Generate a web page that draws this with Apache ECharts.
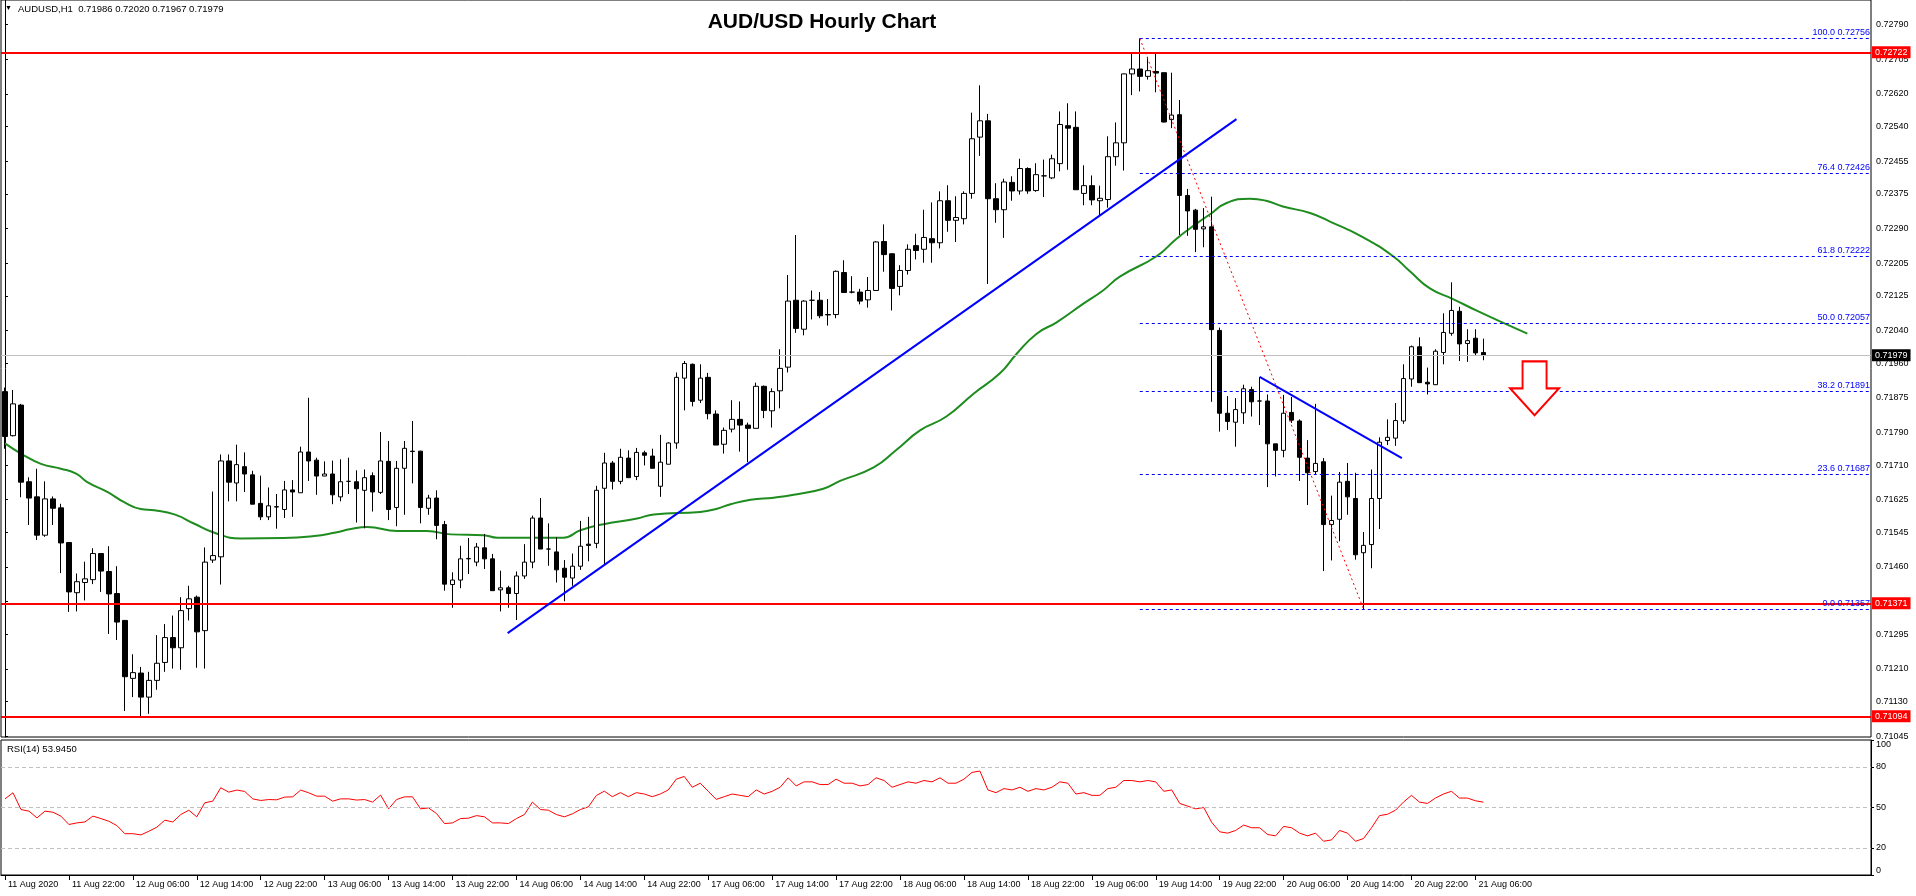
<!DOCTYPE html>
<html><head><meta charset="utf-8">
<script src="https://cdn.jsdelivr.net/npm/echarts@6/dist/echarts.min.js"></script>
<style>html,body{margin:0;padding:0;background:#fff;overflow:hidden}#c{width:1916px;height:896px}</style>
</head><body><div id="c"></div>
<script>
const symbolName = 'AUDUSD,H1';
const chartTitle = 'AUD/USD Hourly Chart';
const TOTAL_SLOTS = 234;
const tickLabels = ['11 Aug 2020','11 Aug 22:00','12 Aug 06:00','12 Aug 14:00','12 Aug 22:00','13 Aug 06:00','13 Aug 14:00','13 Aug 22:00','14 Aug 06:00','14 Aug 14:00','14 Aug 22:00','17 Aug 06:00','17 Aug 14:00','17 Aug 22:00','18 Aug 06:00','18 Aug 14:00','18 Aug 22:00','19 Aug 06:00','19 Aug 14:00','19 Aug 22:00','20 Aug 06:00','20 Aug 14:00','20 Aug 22:00','21 Aug 06:00'];
// [open, high, low, close]
const ohlc = [
[0.71890,0.71900,0.71750,0.71780],[0.71782,0.71894,0.71780,0.71860],[0.71857,0.71860,0.71631,0.71668],[0.71669,0.71680,0.71563,0.71629],
[0.71632,0.71701,0.71526,0.71538],[0.71538,0.71670,0.71534,0.71627],[0.71627,0.71633,0.71563,0.71604],[0.71605,0.71615,0.71445,0.71519],
[0.71520,0.71521,0.71350,0.71399],[0.71397,0.71444,0.71351,0.71424],[0.71422,0.71473,0.71378,0.71431],[0.71429,0.71506,0.71418,0.71493],
[0.71493,0.71494,0.71399,0.71450],[0.71449,0.71511,0.71296,0.71394],[0.71395,0.71462,0.71281,0.71325],[0.71329,0.71330,0.71107,0.71191],
[0.71187,0.71246,0.71141,0.71201],[0.71200,0.71215,0.71094,0.71141],[0.71141,0.71203,0.71100,0.71182],[0.71182,0.71293,0.71159,0.71224],
[0.71226,0.71320,0.71203,0.71287],[0.71287,0.71341,0.71211,0.71262],[0.71262,0.71386,0.71208,0.71353],[0.71358,0.71414,0.71329,0.71382],
[0.71386,0.71390,0.71213,0.71301],[0.71304,0.71508,0.71211,0.71472],[0.71477,0.71645,0.71470,0.71488],[0.71485,0.71736,0.71417,0.71720],
[0.71720,0.71736,0.71621,0.71668],[0.71666,0.71760,0.71621,0.71711],[0.71706,0.71741,0.71644,0.71688],[0.71686,0.71696,0.71614,0.71614],
[0.71616,0.71684,0.71575,0.71583],[0.71583,0.71655,0.71575,0.71610],[0.71607,0.71639,0.71554,0.71608],[0.71601,0.71671,0.71580,0.71649],
[0.71649,0.71673,0.71583,0.71644],[0.71642,0.71755,0.71642,0.71742],[0.71742,0.71875,0.71671,0.71720],[0.71722,0.71728,0.71637,0.71683],
[0.71683,0.71719,0.71683,0.71688],[0.71688,0.71721,0.71614,0.71637],[0.71632,0.71724,0.71621,0.71669],[0.71670,0.71728,0.71639,0.71670],
[0.71669,0.71697,0.71569,0.71652],[0.71648,0.71699,0.71555,0.71679],[0.71684,0.71692,0.71596,0.71644],[0.71643,0.71791,0.71639,0.71720],
[0.71719,0.71769,0.71575,0.71601],[0.71606,0.71720,0.71560,0.71702],[0.71702,0.71769,0.71588,0.71751],[0.71744,0.71818,0.71665,0.71743],
[0.71744,0.71745,0.71567,0.71606],[0.71604,0.71637,0.71588,0.71629],[0.71629,0.71648,0.71528,0.71562],[0.71564,0.71573,0.71402,0.71418],
[0.71417,0.71447,0.71360,0.71428],[0.71428,0.71512,0.71408,0.71480],[0.71480,0.71531,0.71443,0.71481],[0.71472,0.71519,0.71462,0.71509],
[0.71507,0.71541,0.71455,0.71480],[0.71480,0.71492,0.71402,0.71402],[0.71404,0.71451,0.71351,0.71409],[0.71409,0.71414,0.71360,0.71395],
[0.71395,0.71449,0.71330,0.71438],[0.71438,0.71516,0.71431,0.71472],[0.71472,0.71586,0.71457,0.71580],[0.71580,0.71629,0.71504,0.71504],
[0.71504,0.71567,0.71463,0.71504],[0.71497,0.71533,0.71422,0.71453],[0.71457,0.71477,0.71376,0.71435],[0.71433,0.71493,0.71414,0.71462],
[0.71462,0.71573,0.71453,0.71511],[0.71516,0.71583,0.71474,0.71513],[0.71518,0.71659,0.71506,0.71648],[0.71653,0.71740,0.71467,0.71715],
[0.71715,0.71720,0.71650,0.71670],[0.71670,0.71750,0.71663,0.71729],[0.71727,0.71746,0.71679,0.71679],[0.71682,0.71752,0.71673,0.71741],
[0.71740,0.71745,0.71709,0.71734],[0.71732,0.71750,0.71702,0.71702],[0.71658,0.71784,0.71632,0.71717],[0.71712,0.71766,0.71712,0.71764],
[0.71764,0.71937,0.71750,0.71925],[0.71923,0.71965,0.71844,0.71959],[0.71957,0.71959,0.71854,0.71866],[0.71869,0.71957,0.71862,0.71923],
[0.71925,0.71936,0.71822,0.71836],[0.71835,0.71844,0.71759,0.71759],[0.71761,0.71802,0.71738,0.71795],[0.71798,0.71869,0.71790,0.71822],
[0.71822,0.71866,0.71743,0.71808],[0.71808,0.71814,0.71717,0.71800],[0.71800,0.71912,0.71800,0.71903],[0.71903,0.71905,0.71825,0.71844],
[0.71843,0.71898,0.71802,0.71890],[0.71892,0.71994,0.71849,0.71947],[0.71950,0.72176,0.71937,0.72112],[0.72114,0.72274,0.72034,0.72045],
[0.72043,0.72114,0.72028,0.72112],[0.72114,0.72138,0.72067,0.72114],[0.72114,0.72134,0.72070,0.72076],[0.72079,0.72117,0.72052,0.72078],
[0.72079,0.72187,0.72070,0.72185],[0.72182,0.72212,0.72133,0.72133],[0.72134,0.72173,0.72131,0.72134],[0.72134,0.72142,0.72104,0.72112],
[0.72115,0.72171,0.72096,0.72138],[0.72138,0.72259,0.72138,0.72257],[0.72258,0.72300,0.72184,0.72226],[0.72228,0.72229,0.72089,0.72143],
[0.72148,0.72200,0.72126,0.72187],[0.72187,0.72251,0.72177,0.72239],[0.72248,0.72277,0.72214,0.72236],[0.72239,0.72336,0.72206,0.72268],
[0.72265,0.72354,0.72206,0.72255],[0.72255,0.72381,0.72241,0.72358],[0.72358,0.72396,0.72282,0.72310],[0.72310,0.72369,0.72257,0.72317],
[0.72314,0.72381,0.72300,0.72376],[0.72376,0.72574,0.72363,0.72510],[0.72514,0.72641,0.72468,0.72554],[0.72554,0.72571,0.72154,0.72363],
[0.72363,0.72401,0.72304,0.72336],[0.72336,0.72412,0.72267,0.72404],[0.72403,0.72418,0.72358,0.72382],[0.72382,0.72461,0.72373,0.72437],
[0.72437,0.72440,0.72375,0.72382],[0.72383,0.72450,0.72380,0.72422],[0.72419,0.72459,0.72367,0.72419],[0.72414,0.72471,0.72411,0.72461],
[0.72449,0.72577,0.72430,0.72545],[0.72542,0.72597,0.72434,0.72536],[0.72538,0.72577,0.72385,0.72385],[0.72376,0.72445,0.72347,0.72395],
[0.72395,0.72420,0.72347,0.72360],[0.72358,0.72395,0.72322,0.72364],[0.72361,0.72516,0.72341,0.72466],[0.72466,0.72550,0.72444,0.72500],
[0.72500,0.72670,0.72432,0.72669],[0.72669,0.72719,0.72617,0.72681],[0.72681,0.72756,0.72626,0.72663],[0.72663,0.72711,0.72655,0.72677],
[0.72675,0.72719,0.72624,0.72671],[0.72672,0.72672,0.72550,0.72551],[0.72557,0.72672,0.72536,0.72568],[0.72569,0.72605,0.72274,0.72371],
[0.72371,0.72387,0.72272,0.72333],[0.72335,0.72338,0.72232,0.72288],[0.72289,0.72340,0.72244,0.72294],[0.72294,0.72368,0.71865,0.72042],
[0.72040,0.72047,0.71792,0.71837],[0.71837,0.71879,0.71796,0.71817],[0.71815,0.71874,0.71755,0.71846],[0.71838,0.71907,0.71811,0.71897],
[0.71895,0.71902,0.71829,0.71865],[0.71867,0.71926,0.71808,0.71867],[0.71867,0.71883,0.71656,0.71762],[0.71762,0.71762,0.71682,0.71746],
[0.71746,0.71882,0.71729,0.71837],[0.71839,0.71877,0.71813,0.71820],[0.71818,0.71822,0.71671,0.71729],[0.71727,0.71771,0.71612,0.71691],
[0.71694,0.71860,0.71687,0.71714],[0.71718,0.71727,0.71450,0.71564],[0.71564,0.71635,0.71476,0.71574],[0.71577,0.71693,0.71523,0.71668],
[0.71670,0.71715,0.71588,0.71632],[0.71628,0.71691,0.71478,0.71490],[0.71495,0.71546,0.71357,0.71513],[0.71515,0.71699,0.71457,0.71628],
[0.71628,0.71778,0.71553,0.71766],[0.71770,0.71822,0.71759,0.71778],[0.71776,0.71862,0.71757,0.71819],[0.71818,0.71957,0.71811,0.71922],
[0.71921,0.72003,0.71902,0.72000],[0.72000,0.72023,0.71911,0.71912],[0.71913,0.71949,0.71883,0.71909],[0.71907,0.71994,0.71906,0.71989],
[0.71986,0.72082,0.71957,0.72035],[0.72033,0.72158,0.72027,0.72089],[0.72087,0.72098,0.71965,0.72007],[0.72008,0.72043,0.71963,0.72015],
[0.72021,0.72043,0.71979,0.71985],[0.71986,0.72020,0.71967,0.71979]
];
// moving average: [bar index, price]
const maPoints = [[0,0.71763],[2,0.71738],[4.5,0.71713],[7,0.71701],[8.9,0.71689],[10.3,0.71668],[12.8,0.71644],[14.9,0.71619],[17,0.71602],[18.7,0.71599],[21.2,0.71589],[23.7,0.71566],[26.2,0.71544],[29.5,0.71530],[34.9,0.71531],[38.7,0.71536],[41.2,0.71544],[43.3,0.71553],[45.3,0.71558],[49.1,0.71548],[52.8,0.71548],[55.8,0.71540],[59.9,0.71538],[61.6,0.71532],[67,0.71532],[69.9,0.71532],[72,0.71550],[74.9,0.71565],[79.1,0.71579],[81.2,0.71589],[87,0.71595],[89.1,0.71603],[90.8,0.71614],[93.3,0.71625],[96.2,0.71630],[98.7,0.71637],[102.4,0.71652],[104.5,0.71671],[108.7,0.71704],[111.6,0.71748],[114.5,0.71795],[117.8,0.71829],[121.2,0.71885],[124.5,0.71935],[126.6,0.71983],[129.1,0.72032],[131.6,0.72060],[134.9,0.72105],[137.4,0.72138],[139.5,0.72172],[144.1,0.72222],[146.6,0.72265],[149.1,0.72302],[150.8,0.72325],[152.8,0.72352],[155.8,0.72363],[157.8,0.72358],[159.9,0.72344],[163.3,0.72328],[165.8,0.72307],[169.9,0.72269],[173.7,0.72222],[175.8,0.72185],[178.3,0.72143],[181.2,0.72117],[184.1,0.72089],[187,0.72063],[190.5,0.72032]];
const rsi = [56.4,60.9,48.5,47.3,42.3,47.3,46.5,43.6,37.4,38.6,39.3,43.6,41.8,39.8,36.6,30.6,30.6,29.7,32.4,35.4,
40.6,39.3,44.8,48.0,43.1,53.5,54.7,64.6,61.4,62.9,61.9,56.4,55.2,55.9,55.7,57.7,57.9,62.9,60.9,58.4,
58.4,54.7,56.4,56.4,55.5,55.9,54.0,59.2,49.0,55.9,57.9,57.9,49.0,49.7,45.5,38.1,38.6,41.8,42.1,44.0,
43.1,38.6,38.6,38.1,41.8,44.8,54.0,48.5,48.0,44.8,43.1,45.3,48.5,50.5,58.9,62.1,58,61,58,61,
60,58,60,63,71,73,65,68,62,56,58,60,59,58,63,60,62,65,72,66,
69,69,67,67,71,68,68,66,67,72,70,65,67,69,68,70,69,72,68,68,
71,76,77,63,61,64,63,65,62,64,63,65,69,68,60,61,59,59,64,65,
70,70,69,70,69,62,63,53,51,49,50,39,32,31,33,37,35,35,30,29,
36,35,31,29,31,25,26,33,31,25,27,35,44,45,48,54,59,54,53,57,
60,62,57,57,55,53.945];
const resistanceLines = [0.72722, 0.71371, 0.71094];
const currentPrice = 0.71979;
const fibLevels = [[100.0,0.72756],[76.4,0.72426],[61.8,0.72222],[50.0,0.72057],[38.2,0.71891],[23.6,0.71687],[0.0,0.71357]];
const fibStartBar = 142;
const fibDiagonal = [[142,0.72756],[170,0.71357]];
const trendUp = [[62.9,0.71298],[154.1,0.72558]];
const trendDown = [[157,0.71926],[174.8,0.71727]];
const arrowAt = [191.4, 0.71898];
const priceTicks = [0.72790,0.72705,0.72620,0.72540,0.72455,0.72375,0.72290,0.72205,0.72125,0.72040,0.71960,0.71875,0.71790,0.71710,0.71625,0.71545,0.71460,0.71375,0.71295,0.71210,0.71130,0.71045];
const rsiTicks = [0,20,50,80,100];
const rsiLevels = [20,50,80];
const priceMin = 0.710432, priceMax = 0.728502;

const FONT = 'Liberation Sans';
const categories = Array.from({length: TOTAL_SLOTS}, (_, i) => String(i));
const candleData = ohlc.map(r => [r[0], r[3], r[2], r[1]]);
const last = ohlc[ohlc.length - 1];

const chart = echarts.init(document.getElementById('c'), null, {renderer: 'canvas'});
const hl = (v, color, width, bg) => ({
  yAxis: v,
  lineStyle: {color: color, width: width, type: 'solid'},
  label: {show: true, position: 'end', distance: 1, formatter: v.toFixed(5), backgroundColor: bg,
          color: '#fff', fontFamily: FONT, fontSize: 9, padding: [2, 3, 1, 3]}
});
const markLines = [];
resistanceLines.forEach(v => markLines.push(hl(v, '#ff0000', 2, '#ff0000')));
markLines.push(hl(currentPrice, '#c0c0c0', 1, '#000000'));
fibLevels.forEach(([lvl, p]) => markLines.push([
  {coord: [fibStartBar, p], lineStyle: {color: '#0000ff', width: 1, type: [3, 3]},
   label: {show: true, position: 'insideEndTop', distance: 1, formatter: lvl.toFixed(1) + ' ' + p.toFixed(5),
           color: '#0000ff', fontFamily: FONT, fontSize: 9}},
  {coord: [TOTAL_SLOTS - 0.5, p]}
]));
markLines.push([{coord: fibDiagonal[0], lineStyle: {color: '#ff0000', width: 1, type: [2, 3]}, label: {show: false}}, {coord: fibDiagonal[1]}]);
markLines.push([{coord: trendUp[0], lineStyle: {color: '#0000ff', width: 2, type: 'solid'}, label: {show: false}}, {coord: trendUp[1]}]);
markLines.push([{coord: trendDown[0], lineStyle: {color: '#0000ff', width: 2, type: 'solid'}, label: {show: false}}, {coord: trendDown[1]}]);

const option = {
  animation: false,
  backgroundColor: '#ffffff',
  textStyle: {fontFamily: FONT},
  grid: [
    {left: 1, right: 45, top: -1, height: 738, show: true, borderColor: '#000', borderWidth: 1, backgroundColor: 'transparent'},
    {left: 1, right: 45, top: 740, height: 135, show: true, borderColor: '#000', borderWidth: 1, backgroundColor: 'transparent'}
  ],
  xAxis: [
    {type: 'category', gridIndex: 0, data: categories, boundaryGap: true, axisLine: {show: false}, axisTick: {show: false}, axisLabel: {show: false}, splitLine: {show: false}},
    {type: 'value', gridIndex: 0, min: -0.5, max: TOTAL_SLOTS - 0.5, show: false},
    {type: 'category', gridIndex: 1, data: categories, boundaryGap: true,
     axisLine: {show: true, lineStyle: {color: '#000', width: 1}},
     axisTick: {show: true, alignWithLabel: true, length: 5, lineStyle: {color: '#000'},
                interval: (i) => i % 8 === 0 && i / 8 < tickLabels.length},
     axisLabel: {show: true, interval: (i) => i % 8 === 0 && i / 8 < tickLabels.length,
                 formatter: (v, i) => tickLabels[Math.round(Number(v) / 8)] || '',
                 align: 'left', padding: [0, 0, 0, 3], margin: 5, fontSize: 9, color: '#000', fontFamily: FONT},
     splitLine: {show: false}}
  ],
  yAxis: [
    {type: 'value', gridIndex: 0, position: 'right', min: priceMin, max: priceMax, scale: true,
     axisLine: {show: true, lineStyle: {color: '#000'}},
     axisTick: {show: true, customValues: priceTicks, length: 3, lineStyle: {color: '#000'}},
     axisLabel: {show: true, customValues: priceTicks, formatter: v => Number(v).toFixed(5), margin: 5, fontSize: 9, color: '#000', fontFamily: FONT},
     splitLine: {show: false}},
    {type: 'value', gridIndex: 1, position: 'right', min: 0, max: 100,
     axisLine: {show: true, lineStyle: {color: '#000'}},
     axisTick: {show: true, customValues: rsiTicks, length: 3, lineStyle: {color: '#000'}},
     axisLabel: {show: true, customValues: rsiTicks, margin: 5, fontSize: 9, color: '#000', fontFamily: FONT,
                 verticalAlignMaxLabel: 'top', verticalAlignMinLabel: 'bottom'},
     splitLine: {show: false}}
  ],
  series: [
    {type: 'line', name: 'MA', xAxisIndex: 1, yAxisIndex: 0, data: maPoints, showSymbol: false, smooth: true,
     lineStyle: {color: '#1e8c1e', width: 2}, z: 3},
    {type: 'candlestick', name: 'AUDUSD', xAxisIndex: 0, yAxisIndex: 0, data: candleData, barWidth: 5,
     itemStyle: {color: '#ffffff', color0: '#000000', borderColor: '#000000', borderColor0: '#000000', borderWidth: 1}, z: 4},
    {type: 'line', name: 'annotations', xAxisIndex: 1, yAxisIndex: 0, data: [], z: 5,
     markLine: {silent: true, precision: 6, symbol: ['none', 'none'], animation: false, data: markLines},
     markPoint: {silent: true, animation: false, data: [{coord: arrowAt,
       symbol: 'path://M12.5,0 L36.5,0 L36.5,27 L49,27 L24.5,54 L0,27 L12.5,27 Z', symbolSize: [49, 54],
       itemStyle: {color: '#ffffff', borderColor: '#ff0000', borderWidth: 2}, label: {show: false}}]}},
    {type: 'line', name: 'RSI(14)', xAxisIndex: 2, yAxisIndex: 1, data: rsi, showSymbol: false,
     lineStyle: {color: '#ff0000', width: 1},
     markLine: {silent: true, precision: 2, symbol: ['none', 'none'], animation: false, label: {show: false},
       data: rsiLevels.map(v => ({yAxis: v, lineStyle: {color: '#c0c0c0', type: [4, 3], width: 1}}))}}
  ],
  graphic: [
    {type: 'text', left: 5, top: 5, style: {text: '\u25BC', fontSize: 7, fill: '#000'}},
    {type: 'text', left: 18, top: 4, style: {text: symbolName + '  ' + [last[0], last[1], last[2], last[3]].map(v => v.toFixed(5)).join(' '), fontFamily: FONT, fontSize: 9.5, fill: '#000'}},
    {type: 'text', x: 822, y: 22, style: {text: chartTitle, fontFamily: FONT, fontWeight: 'bold', fontSize: 21, fill: '#000', textAlign: 'center', textVerticalAlign: 'middle'}},
    {type: 'text', left: 7, top: 744, style: {text: 'RSI(14) ' + rsi[rsi.length - 1].toFixed(4), fontFamily: FONT, fontSize: 9.5, fill: '#000'}}
  ]
};
chart.setOption(option);
</script></body></html>
